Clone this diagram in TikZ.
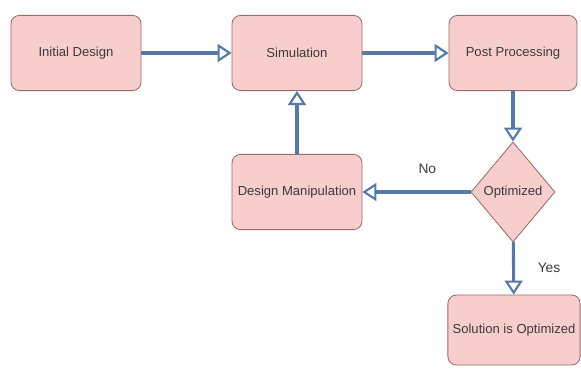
\documentclass[tikz,border=0pt]{standalone}
\usepackage{fontspec}
\setmainfont{Liberation Sans}
\usetikzlibrary{arrows.meta,positioning,shapes.geometric}
\definecolor{boxfill}{HTML}{F8CECC}
\definecolor{boxline}{HTML}{9A6B6B}
\definecolor{flow}{HTML}{5679AA}
\definecolor{txt}{HTML}{3A3A3A}
\begin{document}
\begin{tikzpicture}[font=\fontsize{9.3}{11}\selectfont,
    stepbox/.style={draw=boxline, fill=boxfill, rounded corners=6pt, line width=0.6pt,
      minimum width=3.25cm, minimum height=1.88cm, align=center, text=txt},
    decision/.style={draw=boxline, fill=boxfill, shape=diamond, line width=0.6pt,
      minimum width=2.1cm, minimum height=2.5cm, inner sep=0pt, text=txt},
    flowline/.style={-{Triangle[open, length=0.35cm, width=0.45cm, line width=1.5pt]}, flow, line width=2.2pt}]
  \useasboundingbox (0,0) rectangle (14.525,9.2);

  \node[stepbox] (init) at (1.9,7.875) {Initial Design};
  \node[stepbox] (sim) at (7.425,7.875) {Simulation};
  \node[stepbox, minimum width=3.2cm] (post) at (12.825,7.875) {Post Processing};
  \node[decision] (opt) at (12.825,4.4) {Optimized};
  \node[stepbox] (manip) at (7.425,4.4) {Design Manipulation};
  \node[stepbox, minimum width=3.3cm, minimum height=1.75cm] (sol) at (12.85,0.95) {Solution is Optimized};

  \draw[flowline] (init) -- (sim);
  \draw[flowline] (sim) -- (post);
  \draw[flowline] (post) -- (opt);
  \draw[flowline] (opt) -- node[pos=0.4, above=0.3cm, text=txt, font=\fontsize{9.8}{11}\selectfont] {No} (manip);
  \draw[flowline] (manip) -- (sim);
  \draw[flowline] (opt) -- node[pos=0.5, right=0.45cm, text=txt, font=\fontsize{9.8}{11}\selectfont] {Yes} (sol);
\end{tikzpicture}
\end{document}
